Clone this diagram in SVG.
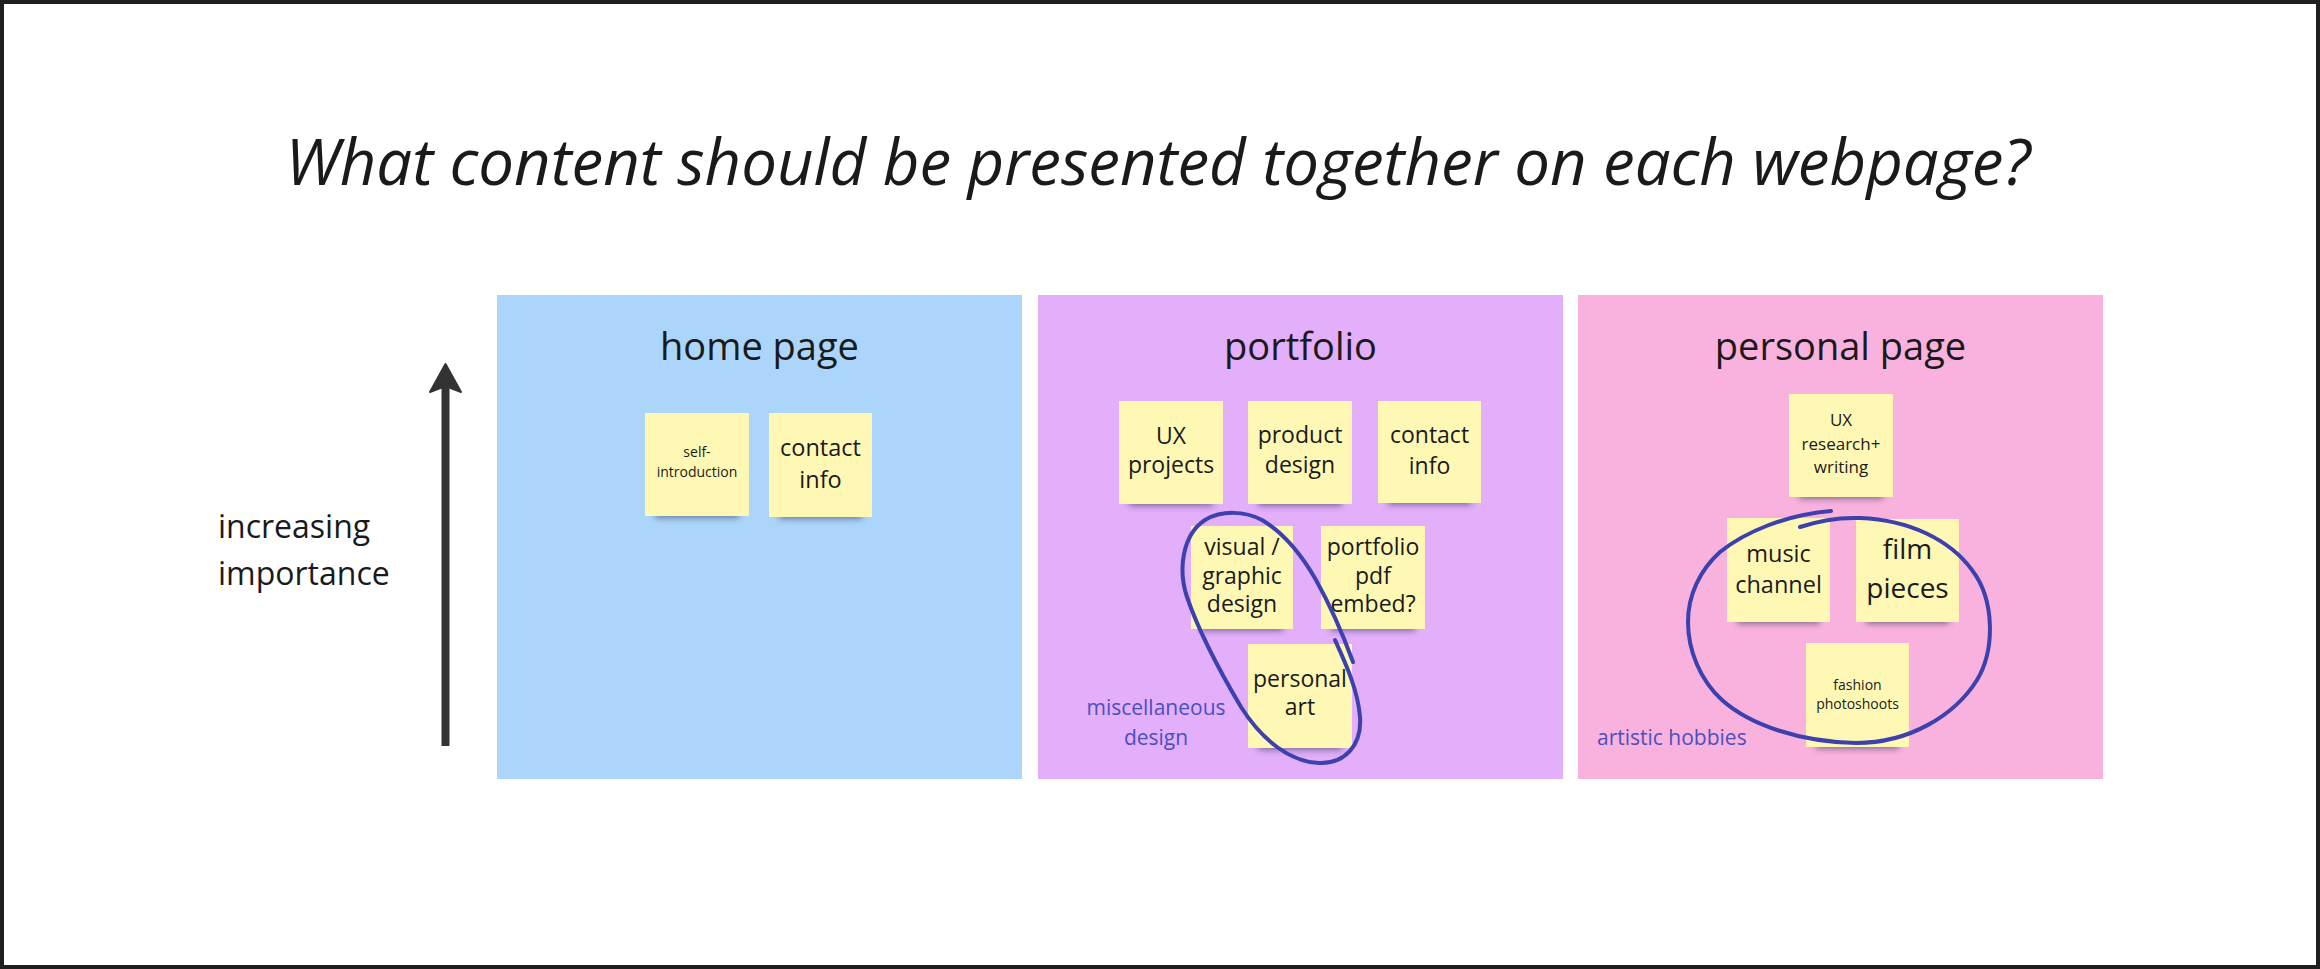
<svg xmlns="http://www.w3.org/2000/svg" width="2320" height="969" viewBox="0 0 2320 969">
  <style>
    .t { font-family: "Open Sans", "Liberation Sans", sans-serif; fill: #1a1a1a; }
    .title { font-style: italic; font-size: 63.5px; }
    .ptitle { font-size: 38px; text-anchor: middle; }
    .side { font-size: 32px; }
    .note { font-family: "Open Sans", "Liberation Sans", sans-serif; fill: #4b50bd; font-size: 21px; }
    .sticky rect.paper { fill: #fff8b4; }
    .sticky text { font-family: "Open Sans", "Liberation Sans", sans-serif; fill: #1a1a1a; text-anchor: middle; }
    .shadow { fill: #2a3550; opacity: 0.55; filter: url(#blur); }
    .pen { fill: none; stroke: #3c41ad; stroke-width: 4; stroke-linecap: round; stroke-linejoin: round; }
  </style>
  <defs>
    <filter id="blur" x="-20%" y="-100%" width="140%" height="300%">
      <feGaussianBlur stdDeviation="3"/>
    </filter>
  </defs>

  <!-- frame -->
  <rect x="2" y="2" width="2316" height="965" fill="#ffffff" stroke="#1e1e1e" stroke-width="4"/>

  <text id="title" class="t title" x="1158" y="185" text-anchor="middle">What content should be presented together on each webpage?</text>

  <!-- importance axis -->
  <g id="axis">
    <line x1="445.5" y1="746" x2="445.5" y2="386" stroke="#333333" stroke-width="8"/>
    <path d="M445.5 364 L461 392 L445.5 386 L430 392 Z" fill="#333333" stroke="#333333" stroke-width="2" stroke-linejoin="round"/>
    <text class="t side" x="218" y="538">increasing</text>
    <text class="t side" x="218" y="585">importance</text>
  </g>

  <!-- page panels -->
  <g id="panel-home">
    <rect x="497" y="295" width="525" height="484" fill="#acd5fb"/>
    <text class="t ptitle" x="759.5" y="360">home page</text>
  </g>
  <g id="panel-portfolio">
    <rect x="1038" y="295" width="525" height="484" fill="#e3aefa"/>
    <text class="t ptitle" x="1300.5" y="360">portfolio</text>
  </g>
  <g id="panel-personal">
    <rect x="1578" y="295" width="525" height="484" fill="#f9b2de"/>
    <text class="t ptitle" x="1840.5" y="360">personal page</text>
  </g>

  <!-- home page notes -->
  <g id="note-self-intro" class="sticky">
    <rect class="shadow" x="655" y="506" width="84" height="12"/>
    <rect class="paper" x="645" y="413" width="104" height="103"/>
    <text font-size="14" x="697" y="457">self-</text>
    <text font-size="14" x="697" y="477">introduction</text>
  </g>
  <g id="note-home-contact" class="sticky">
    <rect class="shadow" x="779" y="507" width="83" height="12"/>
    <rect class="paper" x="769" y="413" width="103" height="104"/>
    <text font-size="23.5" x="820.5" y="456">contact</text>
    <text font-size="23.5" x="820.5" y="488">info</text>
  </g>

  <!-- portfolio notes -->
  <g id="note-ux-projects" class="sticky">
    <rect class="shadow" x="1129" y="494" width="84" height="12"/>
    <rect class="paper" x="1119" y="401" width="104" height="103"/>
    <text font-size="23" x="1171" y="444">UX</text>
    <text font-size="23" x="1171" y="473">projects</text>
  </g>
  <g id="note-product-design" class="sticky">
    <rect class="shadow" x="1258" y="494" width="84" height="12"/>
    <rect class="paper" x="1248" y="401" width="104" height="103"/>
    <text font-size="23" x="1300" y="443">product</text>
    <text font-size="23" x="1300" y="473">design</text>
  </g>
  <g id="note-portfolio-contact" class="sticky">
    <rect class="shadow" x="1388" y="493" width="83" height="12"/>
    <rect class="paper" x="1378" y="401" width="103" height="102"/>
    <text font-size="23" x="1429.5" y="443">contact</text>
    <text font-size="23" x="1429.5" y="474">info</text>
  </g>
  <g id="note-visual-design" class="sticky">
    <rect class="shadow" x="1201" y="619" width="82" height="12"/>
    <rect class="paper" x="1191" y="526" width="102" height="103"/>
    <text font-size="23" x="1242" y="555">visual /</text>
    <text font-size="23" x="1242" y="584">graphic</text>
    <text font-size="23" x="1242" y="612">design</text>
  </g>
  <g id="note-pdf-embed" class="sticky">
    <rect class="shadow" x="1331" y="619" width="84" height="12"/>
    <rect class="paper" x="1321" y="526" width="104" height="103"/>
    <text font-size="23" x="1373" y="555">portfolio</text>
    <text font-size="23" x="1373" y="584">pdf</text>
    <text font-size="23" x="1373" y="612">embed?</text>
  </g>
  <g id="note-personal-art" class="sticky">
    <rect class="shadow" x="1258" y="738" width="84" height="12"/>
    <rect class="paper" x="1248" y="644" width="104" height="104"/>
    <text font-size="23" x="1300" y="687">personal</text>
    <text font-size="23" x="1300" y="715">art</text>
  </g>

  <!-- personal page notes -->
  <g id="note-ux-research" class="sticky">
    <rect class="shadow" x="1799" y="487" width="84" height="12"/>
    <rect class="paper" x="1789" y="394" width="104" height="103"/>
    <text font-size="17" x="1841" y="426">UX</text>
    <text font-size="17" x="1841" y="450">research+</text>
    <text font-size="17" x="1841" y="473">writing</text>
  </g>
  <g id="note-music" class="sticky">
    <rect class="shadow" x="1737" y="612" width="83" height="12"/>
    <rect class="paper" x="1727" y="518" width="103" height="104"/>
    <text font-size="23.5" x="1778.5" y="562">music</text>
    <text font-size="23.5" x="1778.5" y="593">channel</text>
  </g>
  <g id="note-film" class="sticky">
    <rect class="shadow" x="1866" y="612" width="83" height="12"/>
    <rect class="paper" x="1856" y="519" width="103" height="103"/>
    <text font-size="28" x="1907.5" y="559">film</text>
    <text font-size="28" x="1907.5" y="598">pieces</text>
  </g>
  <g id="note-fashion" class="sticky">
    <rect class="shadow" x="1816" y="737" width="83" height="12"/>
    <rect class="paper" x="1806" y="643" width="103" height="104"/>
    <text font-size="14" x="1857.5" y="690">fashion</text>
    <text font-size="14" x="1857.5" y="709">photoshoots</text>
  </g>

  <!-- hand-drawn groupings -->
  <g id="groupings">
    <path class="pen" d="M1335 640 C1345 662 1358 690 1360 717 C1362 745 1345 764 1319 763 C1290 762 1262 740 1241 707 C1225 680 1200 635 1187 597 C1178 570 1182 535 1205 520 C1222 510 1245 511 1262 520 C1282 532 1300 552 1316 580 C1330 605 1342 632 1353 662"/>
    <text class="note" x="1156" y="715" text-anchor="middle">miscellaneous</text>
    <text class="note" x="1156" y="745" text-anchor="middle">design</text>

    <path class="pen" d="M1831 511 C1785 515 1745 532 1720 552 C1700 570 1688 595 1688 622 C1688 650 1700 680 1722 700 C1750 725 1800 742 1856 743 C1910 743 1955 715 1977 680 C1995 650 1995 600 1972 570 C1950 540 1910 520 1860 518 C1835 517 1815 522 1800 527"/>
    <text class="note" x="1597" y="745">artistic hobbies</text>
  </g>
</svg>
